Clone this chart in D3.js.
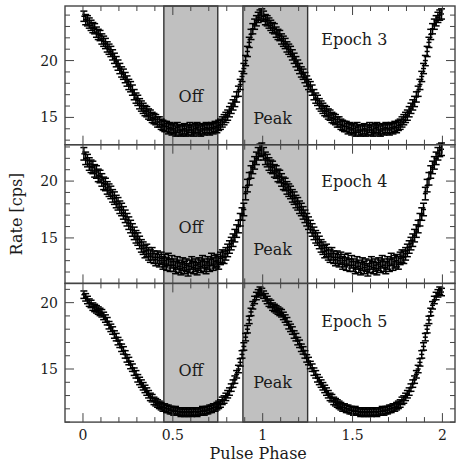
<!DOCTYPE html>
<html>
<head>
<meta charset="utf-8">
<script src="https://cdn.jsdelivr.net/npm/d3@7"></script>
<style>
  body { margin: 0; background: #fff; }
  text { font-family: "DejaVu Serif", serif; fill: #1a1a1a; }
</style>
</head>
<body>
<script>
// folded light curves, 100 bins per cycle, shown twice (phase 0-2)
var epochs = ["Epoch 3", "Epoch 4", "Epoch 5"];
var rate3 = [23.9,23.6,23.5,23.3,23.1,22.9,22.8,22.5,22.3,22.2,
             21.9,21.7,21.5,21.2,21.0,20.8,20.5,20.2,19.9,19.6,
             19.3,19.0,18.8,18.5,18.2,17.9,17.7,17.4,17.0,16.7,
             16.5,16.2,16.0,15.8,15.6,15.5,15.3,15.2,15.0,14.9,
             14.8,14.6,14.6,14.4,14.3,14.2,14.2,14.0,14.1,13.9,
             14.0,13.8,14.1,13.9,13.8,13.9,14.0,13.8,13.9,14.1,
             13.9,13.8,14.0,14.1,13.9,13.8,14.0,13.9,14.1,14.0,
             13.9,14.1,14.0,14.2,14.1,14.3,14.4,14.6,14.8,15.0,
             15.2,15.5,15.8,16.1,16.4,16.8,17.3,17.9,18.6,19.3,
             20.0,20.8,21.6,22.3,22.8,23.2,23.5,23.8,24.0,24.1];
var rate4 = [22.4,22.0,21.8,21.5,21.3,21.2,20.9,20.8,20.5,20.4,
             20.1,19.8,19.7,19.4,19.2,19.0,18.7,18.5,18.2,18.0,
             17.7,17.5,17.2,16.9,16.6,16.3,16.0,15.7,15.4,15.1,
             14.9,14.6,14.3,14.1,13.8,13.9,13.6,13.4,13.6,13.3,
             13.1,13.3,13.0,13.2,12.8,13.0,12.7,13.1,12.6,12.9,
             12.6,12.4,12.8,12.5,12.3,12.7,12.4,12.6,12.2,12.5,
             12.8,12.4,12.6,12.3,12.7,12.5,12.9,12.6,12.4,12.8,
             12.6,13.1,12.7,12.9,13.0,12.8,13.2,13.4,13.3,13.6,
             13.9,14.2,14.5,14.8,15.2,15.6,16.0,16.6,17.1,17.5,
             18.9,19.6,20.2,20.8,21.2,21.6,22.0,22.4,22.7,22.8];
var rate5 = [20.6,20.4,20.2,20.0,19.9,19.7,19.6,19.5,19.4,19.3,
             19.2,19.0,18.8,18.6,18.3,18.1,17.9,17.6,17.4,17.1,
             16.9,16.6,16.4,16.1,15.8,15.6,15.3,15.1,14.8,14.6,
             14.3,14.1,13.9,13.7,13.5,13.3,13.1,12.9,12.8,12.6,
             12.5,12.4,12.3,12.2,12.1,12.1,12.0,12.0,11.9,11.9,
             11.8,11.9,11.8,11.8,11.7,11.8,11.7,11.8,11.7,11.8,
             11.7,11.8,11.8,11.7,11.8,11.8,11.9,11.8,11.9,11.9,
             12.0,12.0,12.1,12.1,12.2,12.3,12.4,12.6,12.7,12.9,
             13.1,13.3,13.6,13.9,14.2,14.6,15.0,15.5,16.1,16.7,
             17.4,18.0,18.7,19.3,19.8,20.2,20.5,20.7,20.9,20.8];
var rates = [rate3, rate4, rate5];
var rateErr = [0.45, 0.55, 0.28];
var yDomains = [[12.6, 24.8], [11.0, 23.2], [11.0, 21.45]];
var offPhase = [0.45, 0.75];
var peakPhase = [0.89, 1.25];
var xTicks = [0, 0.5, 1, 1.5, 2];
var yTicks = [15, 20];

var W = 457, H = 465;
var padL = 65, padR = 455, padT = 6;
var panelH = 138.7;
var nb = 100;

var svg = d3.select("body").append("svg").attr("width", W).attr("height", H);

var x = d3.scaleLinear().domain([-0.1, 2.07]).range([padL, padR]);
var padB = padT + panelH * 3;

// shaded phase intervals across all panels
[offPhase, peakPhase].forEach(function(b) {
  svg.append("rect")
    .attr("x", x(b[0])).attr("y", padT)
    .attr("width", x(b[1]) - x(b[0])).attr("height", padB - padT)
    .attr("fill", "#c0c0c0").attr("stroke", "#333").attr("stroke-width", 1.4);
});

var labelOff = [[96, 118, 39], [88, 110, 42], [93, 105, 44]];

rates.forEach(function(r, k) {
  var y0 = padT + panelH * k, y1 = y0 + panelH;
  var y = d3.scaleLinear().domain(yDomains[k]).range([y1, y0]);
  var g = svg.append("g");

  var pts = [];
  for (var c = 0; c < 2; c++) {
    r.forEach(function(v, i) { pts.push({p: c + (i + 0.5) / nb, v: v}); });
  }
  var e = rateErr[k];
  var eb = g.append("g").attr("stroke", "#000").attr("stroke-width", 1.5);
  eb.selectAll(".v").data(pts).enter().append("line")
    .attr("x1", function(d) { return x(d.p); }).attr("x2", function(d) { return x(d.p); })
    .attr("y1", function(d) { return y(d.v - e); }).attr("y2", function(d) { return y(d.v + e); });
  eb.selectAll(".h").data(pts).enter().append("line")
    .attr("x1", function(d) { return x(d.p) - 2.5; }).attr("x2", function(d) { return x(d.p) + 2.5; })
    .attr("y1", function(d) { return y(d.v); }).attr("y2", function(d) { return y(d.v); });
  [-1, 1].forEach(function(s) {
    eb.selectAll(".cap").data(pts).enter().append("line")
      .attr("x1", function(d) { return x(d.p) - 3.5; }).attr("x2", function(d) { return x(d.p) + 3.5; })
      .attr("y1", function(d) { return y(d.v + s * e); }).attr("y2", function(d) { return y(d.v + s * e); });
  });

  // frame and ticks
  var axG = g.append("g").attr("stroke", "#444").attr("stroke-width", 1);
  axG.append("rect").attr("x", padL).attr("y", y0).attr("width", padR - padL).attr("height", panelH)
    .attr("fill", "none").attr("stroke-width", 1.4);
  var xt = d3.range(0, 21).map(function(i) { return i / 10; });
  xt.forEach(function(t) {
    var len = (Math.round(t * 10) % 5 == 0) ? 9 : 5;
    axG.append("line").attr("x1", x(t)).attr("x2", x(t)).attr("y1", y1).attr("y2", y1 - len);
    axG.append("line").attr("x1", x(t)).attr("x2", x(t)).attr("y1", y0).attr("y2", y0 + len);
  });
  var yt = d3.range(Math.ceil(yDomains[k][0]), Math.floor(yDomains[k][1]) + 1);
  yt.forEach(function(t) {
    var len = (t % 5 == 0) ? 9 : 5;
    axG.append("line").attr("x1", padL).attr("x2", padL + len).attr("y1", y(t)).attr("y2", y(t));
    axG.append("line").attr("x1", padR).attr("x2", padR - len).attr("y1", y(t)).attr("y2", y(t));
  });
  g.selectAll(".yl").data(yTicks).enter().append("text")
    .attr("x", padL - 7).attr("y", function(d) { return y(d); }).attr("dy", "0.36em")
    .attr("text-anchor", "end").attr("font-size", 14).text(function(d) { return d; });

  g.append("text").attr("x", x(0.6)).attr("y", y0 + labelOff[k][0])
    .attr("text-anchor", "middle").attr("font-size", 16).text("Off");
  g.append("text").attr("x", x(1.055)).attr("y", y0 + labelOff[k][1])
    .attr("text-anchor", "middle").attr("font-size", 16).text("Peak");
  g.append("text").attr("x", x(1.51)).attr("y", y0 + labelOff[k][2])
    .attr("text-anchor", "middle").attr("font-size", 16).text(epochs[k]);
});

svg.selectAll(".xl").data(xTicks).enter().append("text")
  .attr("x", function(d) { return x(d); }).attr("y", padB + 18)
  .attr("text-anchor", "middle").attr("font-size", 14).text(function(d) { return d; });

svg.append("text").attr("x", x(0.975)).attr("y", 459)
  .attr("text-anchor", "middle").attr("font-size", 16).text("Pulse Phase");
svg.append("text").attr("transform", "translate(22," + (padT + padB) / 2 + ") rotate(-90)")
  .attr("text-anchor", "middle").attr("font-size", 16).text("Rate [cps]");
</script>
</body>
</html>
